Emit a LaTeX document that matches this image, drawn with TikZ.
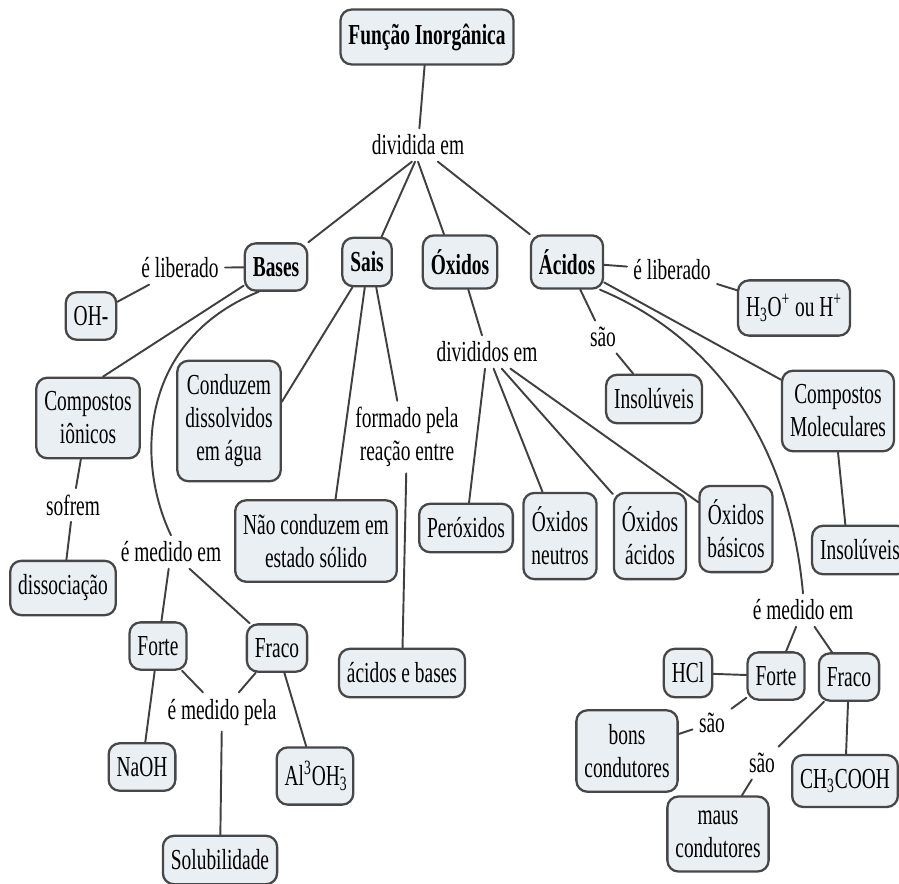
\documentclass[tikz,border=0pt]{standalone}
\usepackage{fontspec}
\setmainfont{Liberation Serif}[FakeStretch=0.67]
\definecolor{boxfill}{HTML}{E9EFF3}
\definecolor{linegray}{HTML}{404040}
\newcommand\mapfont{\fontsize{16.5}{18.8}\selectfont}
\begin{document}
\begin{tikzpicture}[x=0.2mm, y=-0.2mm, font=\mapfont, line join=round, line cap=round, line width=1.1pt,
	box/.style={draw=black!72, fill=boxfill, rounded corners=2.2mm, align=center, inner xsep=1.6mm, inner ysep=2.8mm, line width=1.3pt},
	head/.style={box, font=\mapfont\bfseries},
	lbl/.style={inner sep=1.1mm, align=center},
	link/.style={draw=linegray}]
	\useasboundingbox (0,0) rectangle (899,883);
	% topo
	\node[head] (funcao) at (427,37) {Função Inorgânica};
	\node[lbl] (dividida) at (418,145) {dividida em};
	\node[head] (bases) at (276,267) {Bases};
	\node[head] (sais) at (367,262) {Sais};
	\node[head] (oxidos) at (460,262) {Óxidos};
	\node[head] (acidos) at (567,262) {Ácidos};
	\draw[link] (funcao) -- (dividida);
	\draw[link] (dividida.250) -- (bases.north east);
	\draw[link] (dividida.260) -- (sais.60);
	\draw[link] (dividida.270) -- (oxidos.120);
	\draw[link] (dividida.-40) -- (acidos.north west);
	% bases
	\node[lbl] (libB) at (180,268) {é liberado};
	\node[box] (oh) at (91,316) {OH-};
	\node[box] (ionicos) at (88,418) {Compostos\\iônicos};
	\node[lbl] (sofrem) at (73,505) {sofrem};
	\node[box] (dissoc) at (63,588) {dissociação};
	\node[lbl] (medB) at (171,552) {é medido em};
	\node[box] (forteB) at (158,646) {Forte};
	\node[box] (fracoB) at (277,648) {Fraco};
	\node[lbl] (pela) at (222,712) {é medido pela};
	\node[box] (naoh) at (142,767) {NaOH};
	\node[box] (aloh) at (315,776) {Al\textsuperscript{3}OH\rlap{\textsubscript{3}}\textsuperscript{-}};
	\node[box] (solub) at (220,860) {Solubilidade};
	\draw[link] (bases) -- (libB);
	\draw[link] (libB) -- (oh);
	\draw[link] (bases.210) -- (ionicos.70);
	\draw[link] (ionicos) -- (sofrem);
	\draw[link] (sofrem) -- (dissoc);
	\draw[link] (bases.235) .. controls (140,340) and (135,460) .. (medB.north);
	\draw[link] (medB) -- (forteB);
	\draw[link] (medB) -- (fracoB);
	\draw[link] (forteB) -- (pela);
	\draw[link] (fracoB) -- (pela);
	\draw[link] (pela) -- (solub);
	\draw[link] (forteB) -- (naoh);
	\draw[link] (fracoB) -- (aloh);
	% sais
	\node[box] (conduzem) at (229,421) {Conduzem\\dissolvidos\\em água};
	\node[lbl] (formado) at (407,437) {formado pela\\reação entre};
	\node[box] (naocond) at (316,541) {Não conduzem em\\estado sólido};
	\node[box] (acbases) at (402,673) {ácidos e bases};
	\draw[link] (sais.240) -- (conduzem.20);
	\draw[link] (sais.265) -- (naocond.65);
	\draw[link] (sais.290) -- (formado.105);
	\draw[link] (formado) -- (acbases);
	% oxidos
	\node[lbl] (divOx) at (487,352) {divididos em};
	\node[box] (perox) at (466,528) {Peróxidos};
	\node[box] (neutros) at (560,536) {Óxidos\\neutros};
	\node[box] (oxacidos) at (650,536) {Óxidos\\ácidos};
	\node[box] (basicos) at (736,529) {Óxidos\\básicos};
	\draw[link] (oxidos) -- (divOx);
	\draw[link] (divOx) -- (perox);
	\draw[link] (divOx) -- (neutros);
	\draw[link] (divOx) -- (oxacidos);
	\draw[link] (divOx) -- (basicos);
	% acidos
	\node[lbl] (libA) at (672,270) {é liberado};
	\node[box] (hidronio) at (794,308) {H\textsubscript{3}O\textsuperscript{+} ou H\textsuperscript{+}};
	\node[lbl] (saoA) at (603,337) {são};
	\node[box] (insolA) at (654,399) {Insolúveis};
	\node[box] (molec) at (838,411) {Compostos\\Moleculares};
	\node[box] (insolB) at (860,550) {Insolúveis};
	\node[lbl] (medA) at (803,610) {é medido em};
	\node[box] (hcl) at (688,673) {HCl};
	\node[box] (forteA) at (776,676) {Forte};
	\node[box] (fracoA) at (849,677) {Fraco};
	\node[lbl] (saoF) at (712,723) {são};
	\node[box] (bons) at (627,751) {bons\\condutores};
	\node[lbl] (saoW) at (762,763) {são};
	\node[box] (maus) at (718,834) {maus\\condutores};
	\node[box] (ch3) at (845,781) {CH\textsubscript{3}COOH};
	\draw[link] (acidos) -- (libA);
	\draw[link] (libA) -- (hidronio);
	\draw[link] (acidos) -- (saoA);
	\draw[link] (saoA) -- (insolA);
	\draw[link] (acidos) -- (molec);
	\draw[link] (molec.south) -- (insolB.120);
	\draw[link] (acidos.-40) .. controls (720,340) and (790,450) .. (medA.north);
	\draw[link] (medA) -- (forteA);
	\draw[link] (medA) -- (fracoA);
	\draw[link] (hcl) -- (forteA);
	\draw[link] (forteA) -- (saoF);
	\draw[link] (saoF) -- (bons);
	\draw[link] (fracoA) -- (saoW);
	\draw[link] (saoW) -- (maus);
	\draw[link] (fracoA) -- (ch3);
\end{tikzpicture}
\end{document}
